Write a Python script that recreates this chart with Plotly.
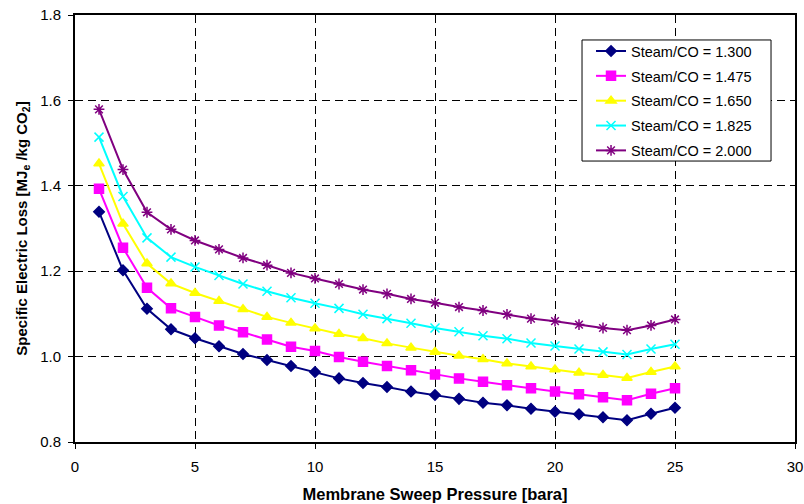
import plotly.graph_objects as go

pressure = list(range(1, 26))

names = ["Steam/CO = 1.300", "Steam/CO = 1.475", "Steam/CO = 1.650",
         "Steam/CO = 1.825", "Steam/CO = 2.000"]

loss_1300 = [1.339, 1.202, 1.112, 1.064, 1.043, 1.024, 1.006, 0.992, 0.978, 0.964,
             0.949, 0.938, 0.929, 0.918, 0.910, 0.901, 0.892, 0.886, 0.878, 0.871,
             0.865, 0.858, 0.851, 0.866, 0.880]
loss_1475 = [1.393, 1.255, 1.161, 1.113, 1.093, 1.073, 1.057, 1.040, 1.023, 1.013,
             0.999, 0.988, 0.978, 0.968, 0.958, 0.949, 0.941, 0.933, 0.926, 0.918,
             0.912, 0.905, 0.898, 0.913, 0.926]
loss_1650 = [1.452, 1.311, 1.218, 1.171, 1.149, 1.130, 1.111, 1.093, 1.079, 1.066,
             1.053, 1.043, 1.031, 1.021, 1.011, 1.002, 0.994, 0.984, 0.977, 0.970,
             0.962, 0.957, 0.950, 0.964, 0.977]
loss_1825 = [1.514, 1.375, 1.278, 1.233, 1.210, 1.190, 1.170, 1.153, 1.138, 1.125,
             1.113, 1.099, 1.089, 1.078, 1.067, 1.058, 1.049, 1.042, 1.032, 1.025,
             1.018, 1.011, 1.005, 1.018, 1.029]
loss_2000 = [1.579, 1.438, 1.338, 1.298, 1.272, 1.251, 1.231, 1.214, 1.196, 1.183,
             1.170, 1.157, 1.147, 1.135, 1.126, 1.116, 1.108, 1.099, 1.089, 1.083,
             1.075, 1.067, 1.062, 1.073, 1.087]

x_ticks = [0, 5, 10, 15, 20, 25, 30]
y_ticks = [0.8, 1.0, 1.2, 1.4, 1.6, 1.8]

series = [loss_1300, loss_1475, loss_1650, loss_1825, loss_2000]
colors = ["#000080", "#FF00FF", "#FFFF00", "#00FFFF", "#800080"]
symbols = ["diamond", "square", "triangle-up", "x-thin-open", "asterisk-open"]
sizes = [8, 9, 9, 9, 9]

FONT = "Liberation Sans, Arial, sans-serif"

fig = go.Figure()
for i, (nm, ys) in enumerate(zip(names, series)):
    fig.add_trace(go.Scatter(
        x=pressure, y=ys, name=nm, mode="lines+markers",
        legendgroup=f"g{i}",
        line=dict(color=colors[i], width=2),
        marker=dict(symbol=symbols[i], size=sizes[i], color=colors[i],
                    line=dict(color=colors[i], width=1.5)),
    ))

# legend frame drawn as a shape (paper coordinates)
fig.add_shape(type="rect", xref="paper", yref="paper",
              x0=0.7042, x1=0.9667, y0=0.658, y1=0.9415,
              line=dict(color="black", width=1), fillcolor="white", layer="above")

fig.update_layout(
    width=804, height=504,
    margin=dict(l=75, r=9, t=15, b=62),
    paper_bgcolor="white", plot_bgcolor="white",
    font=dict(family=FONT, size=15, color="black"),
    showlegend=True,
    legend=dict(x=0.7167, y=0.953, xanchor="left", yanchor="top",
                borderwidth=0, bgcolor="rgba(0,0,0,0)",
                font=dict(family=FONT, size=14.5), tracegroupgap=3, itemwidth=30),
)
fig.update_xaxes(
    range=[0, 30], tickvals=x_ticks, automargin=False, ticklabeloverflow="allow",
    showline=True, linecolor="black", linewidth=2, mirror=True,
    ticks="outside", ticklen=5, tickcolor="black", tickfont=dict(size=15),
    ticklabelstandoff=5,
    showgrid=True, gridcolor="black", gridwidth=1, griddash="8px,5px",
    zeroline=False,
    title=dict(text="<b>Membrane Sweep Pressure [bara]</b>",
               font=dict(family=FONT, size=16.5), standoff=14),
)
fig.update_yaxes(
    range=[0.8, 1.8], tickvals=y_ticks, tickformat=".1f", automargin=False,
    ticklabeloverflow="allow",
    showline=True, linecolor="black", linewidth=2, mirror=True,
    ticks="outside", ticklen=5, tickcolor="black", tickfont=dict(size=15),
    ticklabelstandoff=4,
    showgrid=True, gridcolor="black", gridwidth=1, griddash="8px,5px",
    zeroline=False,
    title=dict(text="<b>Specific Electric Loss [MJ<sub>e</sub> /kg CO<sub>2</sub>]</b>",
               font=dict(family=FONT, size=15), standoff=9),
)

fig.write_html(
    "out.html",
    config={"displayModeBar": False},
    post_script="document.body.style.margin='0';document.body.style.overflow='hidden';",
)
